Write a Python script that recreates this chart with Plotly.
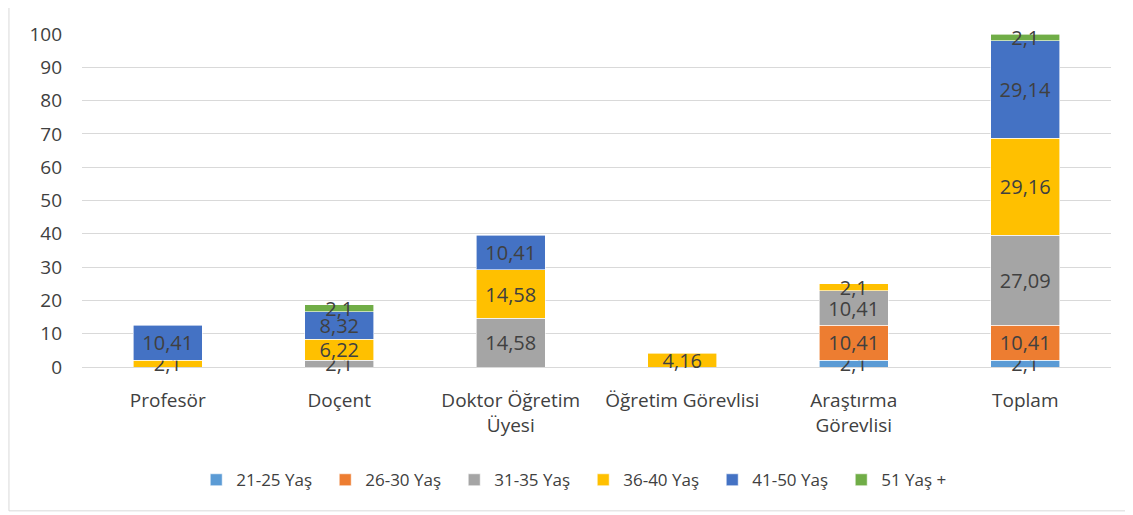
import plotly.graph_objects as go

categories = ["Profesör", "Doçent", "Doktor Öğretim<br>Üyesi", "Öğretim Görevlisi", "Araştırma<br>Görevlisi", "Toplam"]
series_names = ["21-25 Yaş", "26-30 Yaş", "31-35 Yaş", "36-40 Yaş", "41-50 Yaş", "51 Yaş +"]
v_21_25 = [None, None, None, None, 2.1, 2.1]
v_26_30 = [None, None, None, None, 10.41, 10.41]
v_31_35 = [None, 2.1, 14.58, None, 10.41, 27.09]
v_36_40 = [2.1, 6.22, 14.58, 4.16, 2.1, 29.16]
v_41_50 = [10.41, 8.32, 10.41, None, None, 29.14]
v_51 = [None, 2.1, None, None, None, 2.1]
colors = ["#5B9BD5", "#ED7D31", "#A5A5A5", "#FFC000", "#4472C4", "#70AD47"]
y_ticks = [0, 10, 20, 30, 40, 50, 60, 70, 80, 90, 100]

all_series = [v_21_25, v_26_30, v_31_35, v_36_40, v_41_50, v_51]

font_family = "'Open Sans', sans-serif"

fig = go.Figure()
for name, vals, col in zip(series_names, all_series, colors):
    txt = [("" if v is None else f"{v:g}".replace(".", ",")) for v in vals]
    fig.add_trace(go.Bar(
        name=name, x=categories, y=vals, marker=dict(color=col, line=dict(color="white", width=0.6)),
        text=txt, textposition="inside", insidetextanchor="middle", constraintext="none",
        textfont=dict(color="#404040", size=20, family=font_family),
        cliponaxis=False, textangle=0,
    ))

fig.update_layout(
    barmode="stack", bargap=0.6,
    width=1125, height=507,
    margin=dict(l=74, r=22, t=26, b=148, autoexpand=False),
    paper_bgcolor="white", plot_bgcolor="white",
    font=dict(family=font_family, color="#404040", size=19),
    yaxis=dict(range=[0, 100], tickvals=y_ticks, showgrid=True, gridcolor="#D9D9D9", gridwidth=1,
               zeroline=True, zerolinecolor="#D9D9D9", zerolinewidth=1,
               tickfont=dict(size=19, color="#404040"), ticks="", ticklabelstandoff=19),
    xaxis=dict(tickfont=dict(size=19, color="#404040"), showline=False, ticks="", ticklabelstandoff=20),
    legend=dict(orientation="h", x=0.111, xanchor="left", y=-0.34, yanchor="middle",
                font=dict(size=17, color="#404040"), traceorder="normal", itemwidth=30,
                entrywidth=84, entrywidthmode="pixels"),
    shapes=[dict(type="rect", xref="paper", yref="paper", x0=-0.071, x1=1.0175, y0=-0.432, y1=1.087,
                 line=dict(color="#D9D9D9", width=1), fillcolor="rgba(0,0,0,0)", layer="below")],
    uniformtext=dict(mode=False),
)

fig.write_html("out.html")
